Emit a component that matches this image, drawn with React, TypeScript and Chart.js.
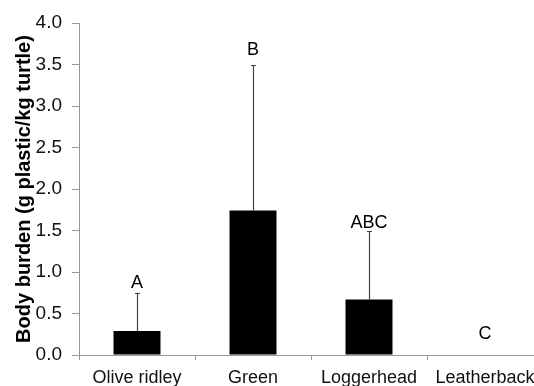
import React, { useEffect, useRef } from "react";
import { Chart, registerables } from "chart.js";

Chart.register(...registerables);

const categories = ["Olive ridley", "Green", "Loggerhead", "Leatherback"];
const burden = [0.29, 1.74, 0.67, 0];
const errorUp = [0.46, 1.75, 0.82, 0];
const letters = ["A", "B", "ABC", "C"];
const letterAt = [0.81, 3.61, 1.53, 0.19];
const yTitle = "Body burden (g plastic/kg turtle)";

const FONT = "'Liberation Sans', Arial, sans-serif";

const annotate = {
  id: "annotate",
  afterDatasetsDraw(chart: any) {
    const { ctx, scales } = chart;
    const meta = chart.getDatasetMeta(0);
    const y = scales.y;
    ctx.save();
    meta.data.forEach((bar: any, i: number) => {
      const x = bar.x;
      if (errorUp[i] > 0) {
        const y0 = y.getPixelForValue(burden[i]);
        const y1 = y.getPixelForValue(burden[i] + errorUp[i]);
        ctx.strokeStyle = "#444";
        ctx.lineWidth = 1.2;
        ctx.beginPath();
        ctx.moveTo(Math.round(x) + 0.5, y0);
        ctx.lineTo(Math.round(x) + 0.5, y1);
        ctx.moveTo(Math.round(x) - 2, Math.round(y1) + 0.5);
        ctx.lineTo(Math.round(x) + 3, Math.round(y1) + 0.5);
        ctx.stroke();
      }
      ctx.fillStyle = "#000";
      ctx.font = `18px ${FONT}`;
      ctx.textAlign = "center";
      ctx.textBaseline = "alphabetic";
      ctx.fillText(letters[i], x, y.getPixelForValue(letterAt[i]));
    });
    ctx.restore();
  },
};

export default function App() {
  const ref = useRef<HTMLCanvasElement>(null);
  useEffect(() => {
    if (!ref.current) return;
    const chart = new Chart(ref.current, {
      type: "bar",
      data: {
        labels: categories,
        datasets: [
          {
            data: burden,
            backgroundColor: "#000",
            borderWidth: 0,
            barPercentage: 0.405,
            categoryPercentage: 1,
          },
        ],
      },
      options: {
        animation: false,
        responsive: false,
        maintainAspectRatio: false,
        layout: { padding: { top: 23, right: 7, bottom: 0, left: 0 } },
        plugins: { legend: { display: false }, tooltip: { enabled: false } },
        scales: {
          x: {
            offset: true,
            grid: {
              display: true,
              drawOnChartArea: false,
              drawTicks: true,
              tickLength: 5,
              color: "#999",
              offset: true,
            },
            border: { color: "#999" },
            ticks: {
              color: "#111",
              font: { family: FONT, size: 18 },
              padding: 7,
              maxRotation: 0,
              autoSkip: false,
            },
            afterFit(scale: any) {
              scale.height = 31;
            },
          },
          y: {
            min: 0,
            max: 4,
            grid: {
              display: true,
              drawOnChartArea: false,
              drawTicks: true,
              tickLength: 7,
              color: "#999",
            },
            border: { color: "#999" },
            ticks: {
              stepSize: 0.5,
              color: "#111",
              font: { family: FONT, size: 19 },
              padding: 10,
              callback: (v: any) => Number(v).toFixed(1),
            },
            title: {
              display: true,
              text: yTitle,
              color: "#000",
              font: { family: FONT, size: 20, weight: "bold" },
              padding: { top: 12, bottom: 0 },
            },
            afterFit(scale: any) {
              scale.width = 79;
            },
          },
        },
      },
      plugins: [annotate],
    });
    return () => chart.destroy();
  }, []);
  return (
    <div
      style={{
        position: "fixed",
        left: 0,
        top: 0,
        width: 534,
        height: 386,
        overflow: "hidden",
        background: "#fff",
      }}
    >
      <canvas
        ref={ref}
        width={550}
        height={386}
        style={{ display: "block", width: 550, height: 386 }}
      />
    </div>
  );
}
